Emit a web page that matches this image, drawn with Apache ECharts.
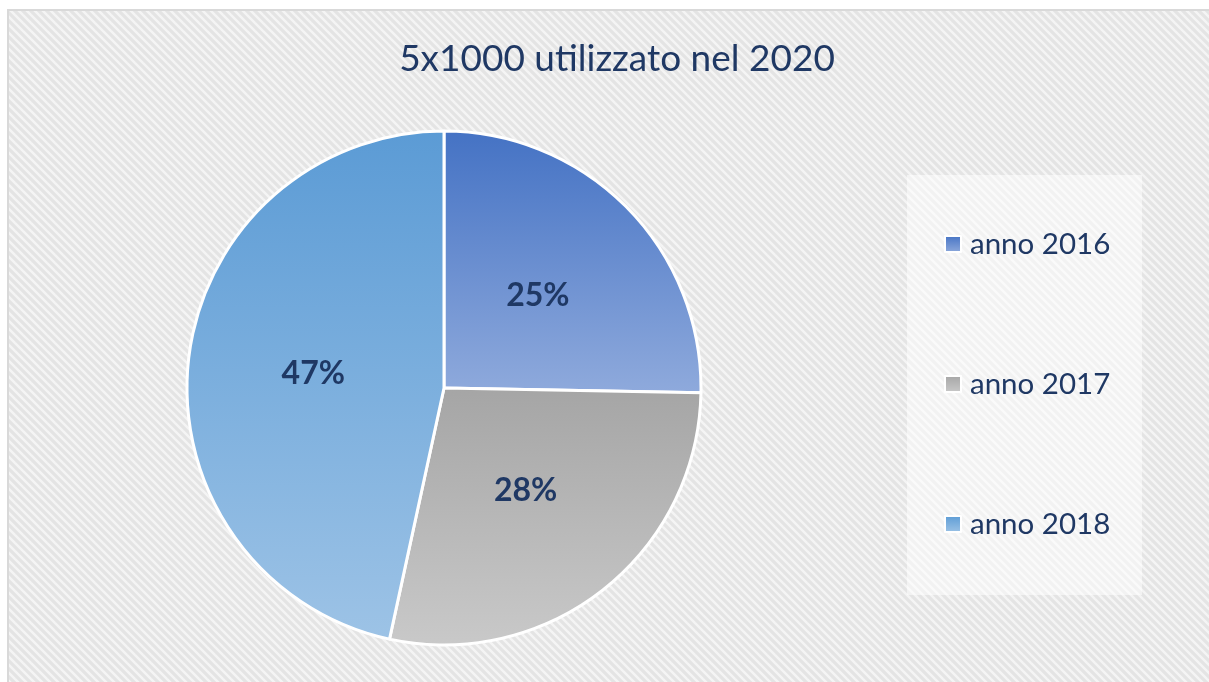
<!DOCTYPE html>
<html>
<head>
<meta charset="utf-8">
<script src="https://cdn.jsdelivr.net/npm/echarts@6/dist/echarts.min.js"></script>
<style>
html,body{margin:0;padding:0;background:#fff;}
#chart{width:1209px;height:682px;}
</style>
</head>
<body>
<div id="chart"></div>
<script>
const titleText = '5x1000 utilizzato nel 2020';
const categories = ['anno 2016', 'anno 2017', 'anno 2018'];
const values = [25.3, 28.1, 46.6];

const gradients = [
  ['#4472C4', '#8FAADC'],
  ['#A5A5A5', '#C9C9C9'],
  ['#5B9BD5', '#9DC3E6']
];

function makePattern() {
  const c = document.createElement('canvas');
  c.width = 8; c.height = 8;
  const ctx = c.getContext('2d');
  ctx.fillStyle = '#E4E4E4';
  ctx.fillRect(0, 0, 8, 8);
  ctx.strokeStyle = '#F4F4F4';
  ctx.lineWidth = 2.5;
  [[-1, -1, 9, 9], [7, -1, 17, 9], [-9, -1, 1, 9]].forEach(function (l) {
    ctx.beginPath(); ctx.moveTo(l[0], l[1]); ctx.lineTo(l[2], l[3]); ctx.stroke();
  });
  return c;
}

const chart = echarts.init(document.getElementById('chart'));
const textColor = '#1F3864';
const font = 'Lato, "Open Sans", sans-serif';

chart.setOption({
  backgroundColor: '#ffffff',
  animation: false,
  title: {
    text: titleText,
    left: 612,
    top: 36,
    textAlign: 'center',
    textStyle: { fontFamily: font, fontSize: 37, fontWeight: 'normal', color: textColor }
  },
  graphic: [
    {
      type: 'rect', z: -10, silent: true,
      shape: { x: 8, y: 10, width: 1240, height: 720 },
      style: { fill: { image: makePattern(), repeat: 'repeat' }, stroke: '#D9D9D9', lineWidth: 2 }
    },
    {
      type: 'rect', z: -5, silent: true,
      shape: { x: 907, y: 175, width: 235, height: 420 },
      style: { fill: 'rgba(255,255,255,0.5)' }
    }
  ],
  legend: {
    orient: 'vertical',
    left: 944,
    top: 228,
    padding: 0,
    itemGap: 108,
    icon: 'rect',
    itemWidth: 16,
    itemHeight: 16,
    itemStyle: { borderColor: '#ffffff', borderWidth: 2 },
    textStyle: { fontFamily: font, fontSize: 29.5, color: textColor, lineHeight: 32, padding: [0, 0, 0, 4] },
    data: categories
  },
  series: [{
    type: 'pie',
    center: [444, 388],
    radius: 257,
    startAngle: 90,
    clockwise: true,
    avoidLabelOverlap: false,
    itemStyle: { borderColor: '#ffffff', borderWidth: 3 },
    label: {
      show: true,
      position: 'inside',
      formatter: function (p) { return Math.round(p.percent) + '%'; },
      fontFamily: font, fontSize: 32, fontWeight: 'bold', color: textColor
    },
    labelLine: { show: false },
    emphasis: { disabled: true },
    data: categories.map(function (name, i) {
      return {
        name: name,
        value: values[i],
        itemStyle: {
          color: new echarts.graphic.LinearGradient(0, 0, 0, 1, [
            { offset: 0, color: gradients[i][0] },
            { offset: 1, color: gradients[i][1] }
          ])
        }
      };
    })
  }]
});
</script>
</body>
</html>
